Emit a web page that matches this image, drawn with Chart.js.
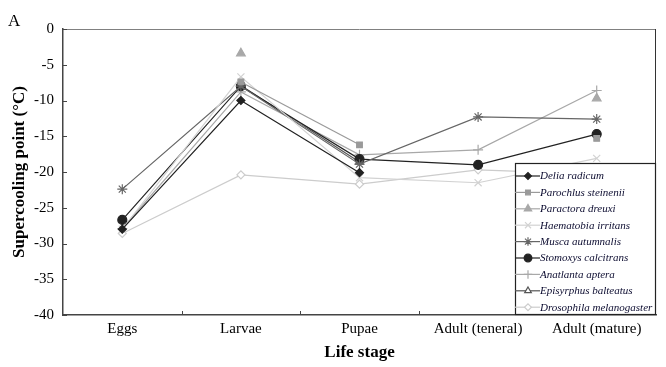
<!DOCTYPE html>
<html>
<head>
<meta charset="utf-8">
<script src="https://cdn.jsdelivr.net/npm/chart.js@4"></script>
<style>
  body { margin: 0; background: #fff; }
  #wrap { position: relative; width: 666px; height: 367px; }
</style>
</head>
<body>
<div id="wrap"><canvas id="grafica" width="666" height="367"></canvas></div>
<script>
// categorias y valores
const etapas = ['Eggs', 'Larvae', 'Pupae', 'Adult (teneral)', 'Adult (mature)'];
const deliaRadicum = [-28.0, -10.0, -20.1, null, null];
const parochlusSteinenii = [null, -7.4, -16.2, null, -15.3];
const paractoraDreuxi = [null, -3.4, null, null, -9.7];
const haematobiaIrritans = [-28.0, -6.7, -20.8, -21.5, -18.1];
const muscaAutumnalis = [-22.4, -8.0, -18.9, -12.3, -12.6];
const stomoxysCalcitrans = [-26.7, -8.0, -18.2, -19.0, -14.7];
const anatlantaAptera = [-27.9, -8.8, -17.6, -16.9, -8.6];
const episyrphusBalteatus = [null, -7.9, -18.6, null, null];
const drosophilaMelanogaster = [-28.6, -20.4, -21.7, -19.7, -20.3];
const ticksY = [0, -5, -10, -15, -20, -25, -30, -35, -40];

const serie = (label, data, color, style, radius, fill) => ({
    label, data,
    borderColor: color,
    backgroundColor: fill || color,
    pointBorderColor: color,
    pointBackgroundColor: fill || color,
    pointStyle: style,
    pointRadius: radius,
    pointBorderWidth: 1.2,
    borderWidth: 1.2,
    spanGaps: false,
    tension: 0
});

const datasets = [
    serie('Delia radicum', deliaRadicum, '#222222', 'rectRot', 4),
    serie('Parochlus steinenii', parochlusSteinenii, '#9a9a9a', 'rect', 4),
    serie('Paractora dreuxi', paractoraDreuxi, '#a8a8a8', 'triangle', 5),
    serie('Haematobia irritans', haematobiaIrritans, '#d2d2d2', 'crossRot', 5),
    serie('Musca autumnalis', muscaAutumnalis, '#666666', 'star', 5),
    serie('Stomoxys calcitrans', stomoxysCalcitrans, '#222222', 'circle', 4.5),
    serie('Anatlanta aptera', anatlantaAptera, '#a8a8a8', 'cross', 5),
    serie('Episyrphus balteatus', episyrphusBalteatus, '#555555', 'triangle', 4.5, '#ffffff'),
    serie('Drosophila melanogaster', drosophilaMelanogaster, '#cccccc', 'rectRot', 4, '#ffffff')
];

// marco, ticks hacia dentro, letra A y leyenda dentro del area
const extras = {
    id: 'extras',
    afterDatasetsDraw(chart) {
        const ctx = chart.ctx;
        const a = chart.chartArea;
        const x = chart.scales.x, y = chart.scales.y;
        ctx.save();
        ctx.lineWidth = 1;
        ctx.strokeStyle = '#808080';
        ctx.beginPath();
        ctx.moveTo(a.left, a.top + 0.5); ctx.lineTo(a.right, a.top + 0.5);
        ctx.stroke();
        ctx.strokeStyle = '#333333';
        ctx.beginPath();
        ctx.moveTo(a.right - 0.5, a.top); ctx.lineTo(a.right - 0.5, a.bottom);
        ctx.stroke();
        ctx.strokeStyle = '#444444';
        ticksY.forEach(v => {
            const py = Math.round(y.getPixelForValue(v)) + 0.5;
            ctx.beginPath(); ctx.moveTo(a.left, py); ctx.lineTo(a.left + 4, py); ctx.stroke();
        });
        for (let i = 1; i < etapas.length; i++) {
            const px = Math.round((x.getPixelForValue(i - 1) + x.getPixelForValue(i)) / 2) + 0.5;
            ctx.beginPath(); ctx.moveTo(px, a.bottom); ctx.lineTo(px, a.bottom - 4); ctx.stroke();
        }

        // leyenda
        const w = 141, h = 152;
        const lx = a.right - w, ly = a.bottom - h;
        ctx.fillStyle = '#ffffff';
        ctx.fillRect(lx, ly, w, h);
        ctx.strokeStyle = '#222222';
        ctx.lineWidth = 1.2;
        ctx.strokeRect(lx + 0.5, ly + 0.5, w - 1, h - 1);
        ctx.font = 'italic 11px "Liberation Serif"';
        ctx.textBaseline = 'middle';
        chart.data.datasets.forEach((d, i) => {
            const iy = ly + 13 + i * 16.4;
            ctx.strokeStyle = d.borderColor;
            ctx.lineWidth = 1.2;
            ctx.beginPath(); ctx.moveTo(lx, iy); ctx.lineTo(lx + 25, iy); ctx.stroke();
            ctx.fillStyle = d.pointBackgroundColor;
            ctx.strokeStyle = d.pointBorderColor;
            Chart.helpers.drawPoint(ctx, {
                pointStyle: d.pointStyle, radius: d.pointRadius * 0.85, rotation: 0,
                borderWidth: 1.2
            }, lx + 13, iy);
            ctx.fillStyle = '#0c0c30';
            ctx.fillText(d.label, lx + 25, iy + 0.5);
        });

        ctx.fillStyle = '#000000';
        ctx.font = '17px "Liberation Serif"';
        ctx.textBaseline = 'alphabetic';
        ctx.fillText('A', 8, 26);
        ctx.restore();
    }
};

const ctx = document.getElementById('grafica').getContext('2d');
new Chart(ctx, {
    type: 'line',
    data: { labels: etapas, datasets },
    options: {
        responsive: false,
        animation: false,
        layout: { padding: { top: 29, right: 10, left: 0, bottom: 0 } },
        plugins: { legend: { display: false }, tooltip: { enabled: false } },
        scales: {
            x: {
                offset: true,
                grid: { display: true, drawOnChartArea: false, drawTicks: false, color: '#444444' },
                border: { color: '#444444', width: 1.5 },
                ticks: { color: '#000', font: { family: 'Liberation Serif', size: 15 }, padding: 5, maxRotation: 0 },
                title: { display: true, text: 'Life stage', color: '#000', font: { family: 'Liberation Serif', size: 17, weight: 'bold' }, padding: { top: 2 } },
                afterFit(s) { s.height = 52; }
            },
            y: {
                min: -40, max: 0,
                grid: { display: true, drawOnChartArea: false, drawTicks: false },
                border: { color: '#444444', width: 1.5 },
                ticks: { stepSize: 5, color: '#000', font: { family: 'Liberation Serif', size: 15 }, padding: 9 },
                title: { display: true, text: 'Supercooling point (°C)', color: '#000', font: { family: 'Liberation Serif', size: 17, weight: 'bold' }, padding: { top: 9, bottom: 0 } },
                afterFit(s) { s.width = 63; }
            }
        }
    },
    plugins: [extras]
});
</script>
</body>
</html>
